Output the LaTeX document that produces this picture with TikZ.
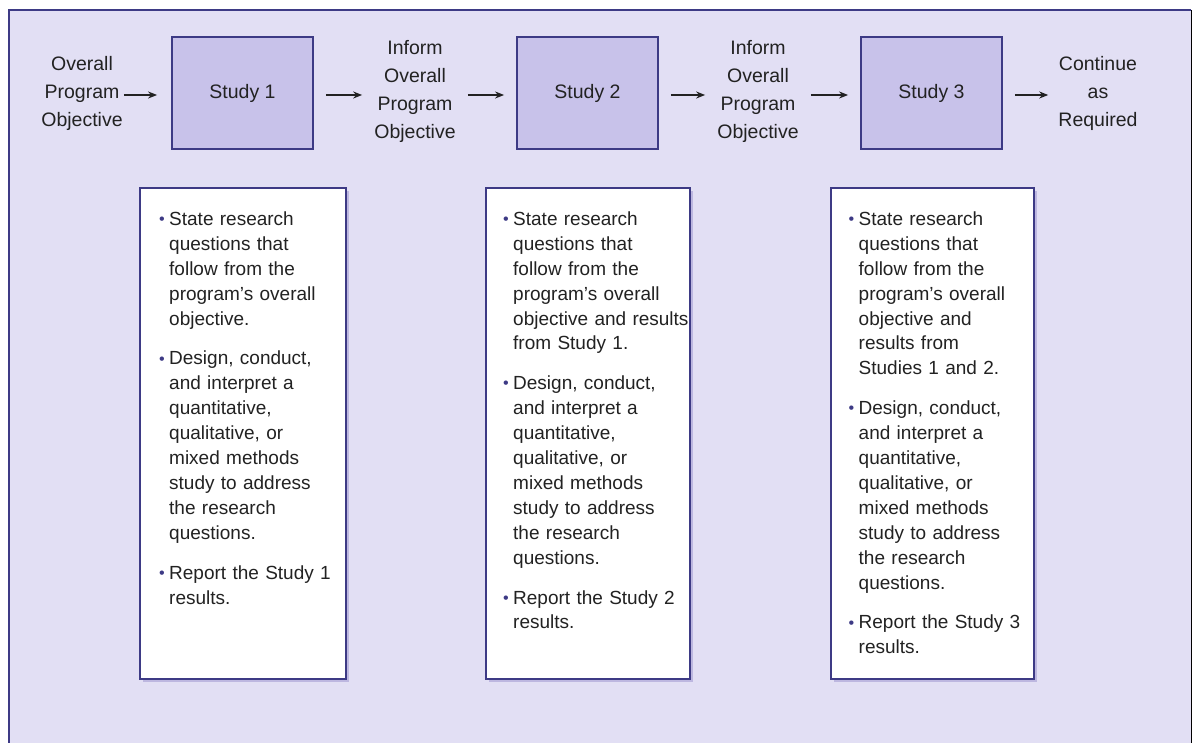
\documentclass[tikz,border=0pt]{standalone}
\usepackage{fontspec}
\setmainfont{Liberation Sans}
\usetikzlibrary{arrows.meta,shadows,calc}

\definecolor{panel}{HTML}{E2DFF4}
\definecolor{studyfill}{HTML}{C8C2EA}
\definecolor{navy}{HTML}{3D3A85}
\definecolor{ink}{HTML}{222222}
\definecolor{shade}{HTML}{BDB7E0}

% small navy bullet that hangs in front of each item
\newcommand{\bul}{\makebox[10pt][l]{\textcolor{navy}{\raisebox{0.05em}{\scalebox{0.85}{•}}}}}
% line break inside a bulleted paragraph
\newcommand{\nl}{\hfil\break}
% one bulleted paragraph with a hanging indent, lines broken by hand
\newcommand{\bitem}[1]{\hyphenpenalty=10000 \exhyphenpenalty=10000
  \hangindent=10pt\hangafter=1\noindent\bul#1\par}
% gap between two bulleted paragraphs
\newcommand{\itemgap}{\vskip15pt}

\tikzset{
  label text/.style={text=ink, inner sep=0pt, align=center,
    font=\fontsize{19.5}{28}\selectfont},
  studybox/.style={draw=navy, line width=1.8pt, fill=studyfill, text=ink,
    minimum width=141pt, minimum height=112pt,
    font=\fontsize{19.5}{24}\selectfont},
  listbox/.style={draw=navy, line width=1.8pt, fill=white, anchor=north west,
    minimum height=491pt,
    drop shadow={shadow xshift=3pt, shadow yshift=-3pt, fill=shade, opacity=1}},
  listtext/.style={anchor=north west, inner sep=0pt, text=ink, text width=200pt,
    font=\fontsize{19}{24.9}\selectfont},
  flow/.style={draw=ink, line width=1.6pt, -{Stealth[length=9pt,width=7pt]},
    shorten <=12pt, shorten >=12pt}
}

\begin{document}
\begin{tikzpicture}[x=1pt,y=-1pt]
\useasboundingbox (0,0) rectangle (1194,743);

% panel behind the whole flow
\fill[panel] (9,10) rectangle (1191,750);
\draw[shade, line width=1pt] (1191,10) -- (1191,750);
\draw[navy, line width=1.5pt] (9,750) -- (9,10) -- (1191,10);

% top row: objectives and studies
\node[label text] (obj)  at (82,93)   {Overall\\Program\\Objective};
\node[studybox]   (s1)   at (242.5,93) {Study 1};
\node[label text] (inf1) at (415,91)  {Inform\\Overall\\Program\\Objective};
\node[studybox]   (s2)   at (587.5,93) {Study 2};
\node[label text] (inf2) at (758,91)  {Inform\\Overall\\Program\\Objective};
\node[studybox]   (s3)   at (931.5,93) {Study 3};
\node[label text] (cont) at (1098,93) {Continue\\as\\Required};

\draw[flow, shorten <=1pt, shorten >=14pt] (obj.east |- 0,95) -- (s1.west |- 0,95);
\draw[flow] (s1.east |- 0,95) -- (inf1.west |- 0,95);
\draw[flow] (inf1.east |- 0,95) -- (s2.west |- 0,95);
\draw[flow] (s2.east |- 0,95) -- (inf2.west |- 0,95);
\draw[flow] (inf2.east |- 0,95) -- (s3.west |- 0,95);
\draw[flow, shorten >=10pt] (s3.east |- 0,95) -- (cont.west |- 0,95);

% task lists under each study
\node[listbox, minimum width=206pt] (b1) at (139,187) {};
\node[listbox, minimum width=204pt] (b2) at (485,187) {};
\node[listbox, minimum width=203pt] (b3) at (830,187) {};

\node[listtext] (t1) at ($(b1.north west)+(20,24.5)$) {%
\bitem{State research\nl questions that\nl follow from the\nl program's overall\nl objective.}\itemgap
\bitem{Design, conduct,\nl and interpret a\nl quantitative,\nl qualitative, or\nl mixed methods\nl study to address\nl the research\nl questions.}\itemgap
\bitem{Report the Study 1\nl results.}};

\node[listtext] (t2) at ($(b2.north west)+(18,24.5)$) {%
\bitem{State research\nl questions that\nl follow from the\nl program's overall\nl objective and results\nl from Study 1.}\itemgap
\bitem{Design, conduct,\nl and interpret a\nl quantitative,\nl qualitative, or\nl mixed methods\nl study to address\nl the research\nl questions.}\itemgap
\bitem{Report the Study 2\nl results.}};

\node[listtext] (t3) at ($(b3.north west)+(18.5,24.5)$) {%
\bitem{State research\nl questions that\nl follow from the\nl program's overall\nl objective and\nl results from\nl Studies 1 and 2.}\itemgap
\bitem{Design, conduct,\nl and interpret a\nl quantitative,\nl qualitative, or\nl mixed methods\nl study to address\nl the research\nl questions.}\itemgap
\bitem{Report the Study 3\nl results.}};
\end{tikzpicture}
\end{document}
